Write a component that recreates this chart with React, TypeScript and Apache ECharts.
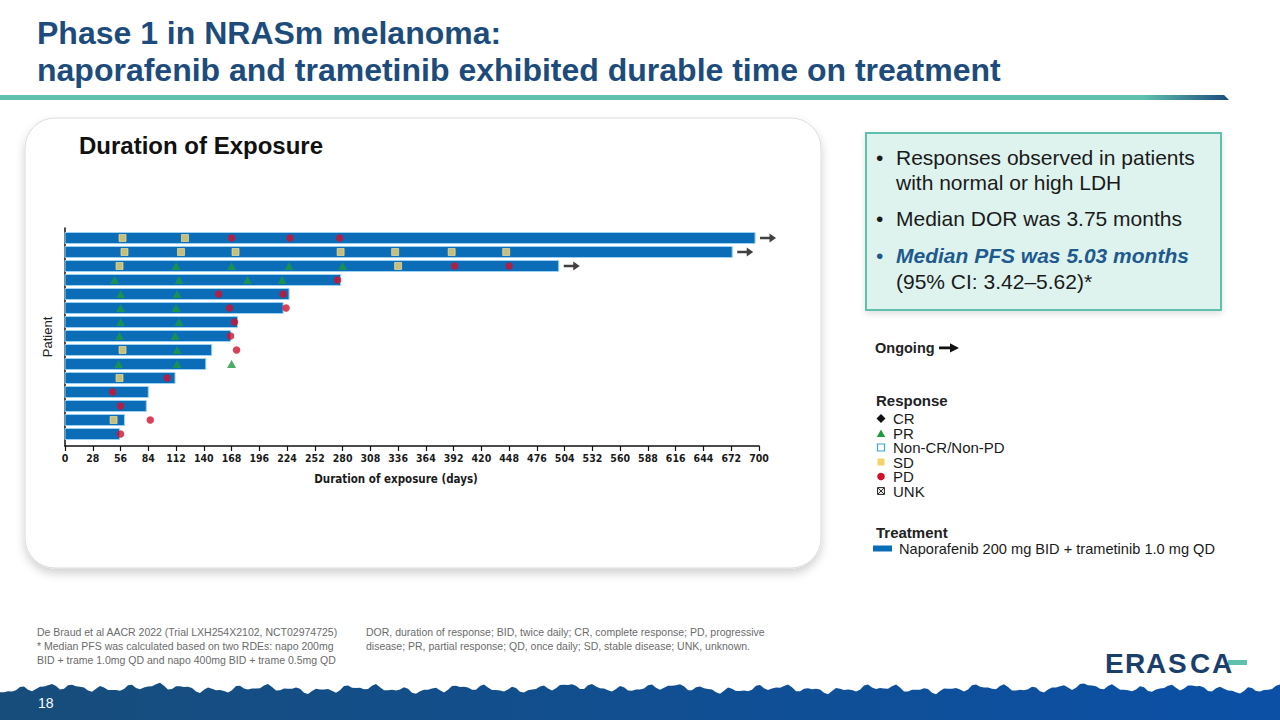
import { useEffect, useRef } from 'react';
import * as echarts from 'echarts';

// ---- Data ----
const durationDays = [696, 673, 498, 278, 226, 220, 174, 167, 148, 142, 111, 84, 82, 60, 55];
const ongoing = [true, true, true, false, false, false, false, false, false, false, false, false, false, false, false];
// [patientIndex, day]
const sdAssessments: [number, number][] = [
  [0, 58], [0, 121],
  [1, 60], [1, 117], [1, 172], [1, 278], [1, 333], [1, 390], [1, 445],
  [2, 55], [2, 336],
  [8, 58],
  [10, 55],
  [13, 49],
];
const prAssessments: [number, number][] = [
  [2, 112], [2, 168], [2, 226], [2, 280],
  [3, 50], [3, 115], [3, 184], [3, 219],
  [4, 56], [4, 113],
  [5, 56], [5, 112],
  [6, 56], [6, 115],
  [7, 55], [7, 111],
  [8, 113],
  [9, 54], [9, 113], [9, 168],
];
const pdAssessments: [number, number][] = [
  [0, 168], [0, 227], [0, 277],
  [2, 393], [2, 448],
  [3, 275],
  [4, 155], [4, 220],
  [5, 166], [5, 223],
  [6, 171],
  [7, 167],
  [8, 173],
  [10, 103],
  [11, 48],
  [12, 56],
  [13, 86],
  [14, 56],
];
const xTickMax = 700;
const xTickStep = 28;

const BAR = '#0b6cb8';
const SD_C = '#f6d36a';
const PR_C = '#1f9a3c';
const PD_C = '#d2102c';
const NAVY = '#1d4c7c';
const TEAL = '#5fc0ae';

const SANS = '"Liberation Sans", Arial, Helvetica, sans-serif';
const NARROW = '"Liberation Sans Narrow", "Arial Narrow", "DejaVu Sans Condensed", sans-serif';
const ARROW_PATH = 'path://M0,3.2 L9.5,3.2 L9.5,0 L16,4.5 L9.5,9 L9.5,5.8 L0,5.8 Z';

function bandPoints(): number[][] {
  const pts: number[][] = [[0, 720]];
  for (let x = 0; x <= 1280; x += 4) {
    const y = 689 + 2.2 * Math.sin(x * 0.23) + 1.8 * Math.sin(x * 0.061 + 1.3) + 1.4 * Math.cos(x * 0.41) - 1.5 * Math.max(0, Math.sin(x * 0.013));
    pts.push([x, y]);
  }
  pts.push([1280, 720]);
  return pts;
}

function txt(text: string, x: number, y: number, size: number, opts: any = {}) {
  return {
    type: 'text',
    x,
    y,
    z: opts.z ?? 5,
    style: {
      text,
      fontSize: size,
      fontFamily: opts.family ?? SANS,
      fontWeight: opts.weight ?? 'normal',
      fontStyle: opts.style ?? 'normal',
      fill: opts.fill ?? '#1a1a1a',
      verticalAlign: 'middle',
      align: opts.align ?? 'left',
      lineHeight: opts.lineHeight ?? undefined,
    },
  };
}

const logoLetters: [string, number][] = [['E', 1105], ['R', 1125], ['A', 1146], ['S', 1168], ['C', 1190], ['A', 1212]];

export default function App() {
  const ref = useRef<HTMLDivElement>(null);
  useEffect(() => {
    const chart = echarts.init(ref.current!, null, { renderer: 'svg' });

    const legendX = 881;
    const LH = 13;
    const graphicEls: any[] = [
      // card
      {
        type: 'rect', z: -10,
        shape: { x: 25, y: 118, width: 796, height: 450, r: 30 },
        style: { fill: '#ffffff', stroke: '#dcdcdc', lineWidth: 1, shadowBlur: 10, shadowOffsetY: 5, shadowColor: 'rgba(0,0,0,0.18)' },
      },
      // header
      txt('Phase 1 in NRASm melanoma:', 37, 33, 32, { weight: 'bold', fill: NAVY }),
      txt('naporafenib and trametinib exhibited durable time on treatment', 37, 70, 32, { weight: 'bold', fill: NAVY }),
      {
        type: 'polygon', z: 1,
        shape: { points: [[0, 95], [1224, 95], [1229, 100], [0, 100]] },
        style: {
          fill: new echarts.graphic.LinearGradient(0, 0, 1, 0, [
            { offset: 0, color: TEAL },
            { offset: 0.93, color: TEAL },
            { offset: 1, color: NAVY },
          ]),
        },
      },
      txt('Duration of Exposure', 79, 145, 24, { weight: 'bold', fill: '#111' }),
      // key message box
      {
        type: 'rect', z: 1,
        shape: { x: 866, y: 133, width: 355, height: 177 },
        style: { fill: '#def3ee', stroke: TEAL, lineWidth: 2, shadowBlur: 6, shadowOffsetY: 3, shadowColor: 'rgba(0,0,0,0.12)' },
      },
      txt('•', 876, 157, 21),
      txt('Responses observed in patients', 896, 157, 21, { lineHeight: 24 }),
      txt('with normal or high LDH', 896, 182, 21, { lineHeight: 24 }),
      txt('•', 876, 218, 21),
      txt('Median DOR was 3.75 months', 896, 218, 21),
      txt('•', 876, 255, 21, { fill: '#1f5a8e' }),
      txt('Median PFS was 5.03 months', 896, 255, 21, { weight: 'bold', style: 'italic', fill: '#1f5a8e', lineHeight: 24 }),
      txt('(95% CI: 3.42–5.62)*', 896, 281, 21, { lineHeight: 24 }),
      // legend: ongoing
      txt('Ongoing', 875, 348, 14.5, { weight: 'bold', fill: '#222' }),
      { type: 'polygon', shape: { points: [[939, 346.6], [950, 346.6], [950, 343.2], [959, 347.9], [950, 352.6], [950, 349.2], [939, 349.2]] }, style: { fill: '#111' } },
      // legend: response
      txt('Response', 876, 400, 15, { weight: 'bold', fill: '#222' }),
      { type: 'polygon', shape: { points: [[legendX, 414], [legendX + 4.5, 418.5], [legendX, 423], [legendX - 4.5, 418.5]] }, style: { fill: '#111' } },
      txt('CR', 893, 418.5, 15, { lineHeight: LH }),
      { type: 'polygon', shape: { points: [[legendX, 429.5], [legendX + 4.2, 437], [legendX - 4.2, 437]] }, style: { fill: PR_C } },
      txt('PR', 893, 433, 15, { lineHeight: LH }),
      { type: 'rect', shape: { x: 877.5, y: 444, width: 7, height: 7 }, style: { fill: '#fff', stroke: '#3ba3d6', lineWidth: 1.2 } },
      txt('Non-CR/Non-PD', 893, 447.5, 15, { lineHeight: LH }),
      { type: 'rect', shape: { x: 877.5, y: 458.5, width: 7, height: 7 }, style: { fill: SD_C } },
      txt('SD', 893, 462, 15, { lineHeight: LH }),
      { type: 'circle', shape: { cx: legendX, cy: 476.5, r: 3.8 }, style: { fill: PD_C } },
      txt('PD', 893, 476.5, 15, { lineHeight: LH }),
      { type: 'rect', shape: { x: 877.5, y: 487.5, width: 7, height: 7 }, style: { fill: '#e5e5e5', stroke: '#333', lineWidth: 1 } },
      { type: 'line', shape: { x1: 878, y1: 488, x2: 884, y2: 494 }, style: { stroke: '#333', lineWidth: 1 } },
      { type: 'line', shape: { x1: 884, y1: 488, x2: 878, y2: 494 }, style: { stroke: '#333', lineWidth: 1 } },
      txt('UNK', 893, 491, 15, { lineHeight: LH }),
      // legend: treatment
      txt('Treatment', 876, 532, 15, { weight: 'bold', fill: '#222' }),
      { type: 'rect', shape: { x: 873, y: 545.5, width: 19, height: 6 }, style: { fill: BAR } },
      txt('Naporafenib 200 mg BID + trametinib 1.0 mg QD', 899, 548.5, 14.6),
      // footnotes
      txt('De Braud et al AACR 2022 (Trial LXH254X2102, NCT02974725)', 37, 632, 10.5, { fill: '#6b6b6b' }),
      txt('* Median PFS was calculated based on two RDEs: napo 200mg', 37, 646, 10.5, { fill: '#6b6b6b' }),
      txt('BID + trame 1.0mg QD and napo 400mg BID + trame 0.5mg QD', 37, 660, 10.5, { fill: '#6b6b6b' }),
      txt('DOR, duration of response; BID, twice daily; CR, complete response; PD, progressive', 366, 632, 10.5, { fill: '#6b6b6b' }),
      txt('disease; PR, partial response; QD, once daily; SD, stable disease; UNK, unknown.', 366, 646, 10.5, { fill: '#6b6b6b' }),
      // logo
      ...logoLetters.map(([ch, x]) => txt(ch, x, 663, 28, { weight: 'bold', fill: '#1b3f6b' })),
      { type: 'rect', shape: { x: 1228, y: 660, width: 19, height: 5 }, style: { fill: TEAL } },
      // bottom band
      {
        type: 'polygon', z: 2,
        shape: { points: bandPoints() },
        style: {
          fill: new echarts.graphic.LinearGradient(0, 0, 1, 0, [
            { offset: 0, color: '#174d7b' },
            { offset: 1, color: '#0b50a6' },
          ]),
        },
      },
      txt('18', 38, 703, 14, { fill: '#ffffff', z: 6 }),
    ];

    const option: any = {
      animation: false,
      backgroundColor: '#ffffff',
      grid: { left: 65, top: 228, width: 694, height: 218, containLabel: false },
      xAxis: {
        type: 'value',
        position: 'bottom',
        min: 0,
        max: xTickMax,
        interval: xTickStep,
        axisLine: { show: true, onZero: false, lineStyle: { color: '#111', width: 1.5 } },
        axisTick: { show: true, length: 5, lineStyle: { color: '#111', width: 1.2 } },
        axisLabel: { fontSize: 10.5, fontWeight: 'bold', fontFamily: NARROW, color: '#1a1a1a', margin: 6 },
        splitLine: { show: false },
        name: 'Duration of exposure (days)',
        nameLocation: 'middle',
        nameGap: 27,
        nameTextStyle: { fontSize: 11.5, fontWeight: 'bold', fontFamily: NARROW, color: '#1a1a1a', padding: [0, 32, 0, 0] },
      },
      yAxis: {
        type: 'value',
        position: 'left',
        inverse: true,
        min: -0.714,
        max: 14.857,
        axisLine: { show: true, onZero: false, lineStyle: { color: '#111', width: 1.5 } },
        axisTick: { show: false },
        axisLabel: { show: false },
        splitLine: { show: false },
        name: 'Patient',
        nameLocation: 'middle',
        nameRotate: 90,
        nameGap: 11,
        nameTextStyle: { fontSize: 13, fontFamily: SANS, color: '#222' },
      },
      graphic: { elements: graphicEls },
      series: [
        {
          type: 'custom',
          name: 'Naporafenib 200 mg BID + trametinib 1.0 mg QD',
          z: 3,
          clip: false,
          encode: { x: 0, y: 1 },
          data: durationDays.map((d, i) => [d, i]),
          renderItem: (_params: any, api: any) => {
            const p0 = api.coord([0, api.value(1)]);
            const p1 = api.coord([api.value(0), api.value(1)]);
            return {
              type: 'rect',
              shape: { x: p0[0], y: p0[1] - 5.5, width: p1[0] - p0[0], height: 11 },
              style: { fill: BAR, stroke: '#9bd2f2', lineWidth: 1 },
            };
          },
        },
        {
          type: 'scatter',
          name: 'Ongoing',
          z: 3,
          clip: false,
          symbol: ARROW_PATH,
          symbolSize: [16, 9],
          symbolOffset: [13, 0],
          itemStyle: { color: '#111' },
          data: durationDays.map((d, i) => [d, i]).filter((_, i) => ongoing[i]),
        },
        {
          type: 'scatter', name: 'SD', z: 4, symbol: 'rect', symbolSize: 7, clip: false,
          itemStyle: { color: SD_C, borderColor: '#fbe7a6', borderWidth: 0.8 },
          data: sdAssessments.map(([p, d]) => [d, p]),
        },
        {
          type: 'scatter', name: 'PR', z: 4, symbol: 'triangle', symbolSize: [9, 8], clip: false,
          itemStyle: { color: PR_C },
          data: prAssessments.map(([p, d]) => [d, p]),
        },
        {
          type: 'scatter', name: 'PD', z: 4, symbol: 'circle', symbolSize: 7.5, clip: false,
          itemStyle: { color: PD_C },
          data: pdAssessments.map(([p, d]) => [d, p]),
        },
      ],
    };
    chart.setOption(option);
    return () => chart.dispose();
  }, []);
  return (
    <div
      ref={ref}
      style={{ position: 'fixed', left: 0, top: 0, width: 1280, height: 720, background: '#fff' }}
    />
  );
}
